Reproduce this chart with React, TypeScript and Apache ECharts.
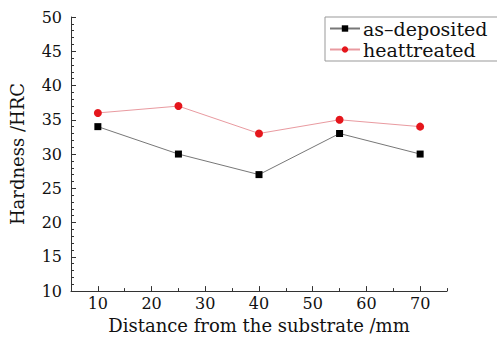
import React, { useEffect, useRef } from "react";
import * as echarts from "echarts";

const distances = [10, 25, 40, 55, 70];
const asDeposited = [34, 30, 27, 33, 30];
const heatTreated = [36, 37, 33, 35, 34];
const xMajorTicks = [10, 20, 30, 40, 50, 60, 70];
const xMinorTicks = [15, 25, 35, 45, 55, 65, 75];

const FONT = "DejaVu Serif";

export default function App() {
  const ref = useRef<HTMLDivElement>(null);
  useEffect(() => {
    if (!ref.current) return;
    const chart = echarts.init(ref.current, null, { renderer: "svg" });
    const axisLine = { show: true, lineStyle: { color: "#333", width: 1 } };
    chart.setOption({
      animation: false,
      backgroundColor: "#fff",
      textStyle: { fontFamily: FONT },
      grid: { left: 68, right: 50, top: 17, bottom: 44 },
      legend: {
        orient: "vertical",
        left: 325,
        top: 17,
        itemWidth: 30,
        itemHeight: 8,
        itemGap: 2,
        padding: [2, 60, 2, 4],
        borderColor: "#999",
        borderWidth: 1,
        textStyle: { fontFamily: FONT, fontSize: 19, color: "#111", padding: [0, 0, 0, -2] },
        data: ["as–deposited", "heattreated"],
      },
      xAxis: [
        {
          type: "value",
          min: 5,
          max: 75,
          interval: 5,
          axisLine,
          splitLine: { show: false },
          axisTick: { show: true, inside: true, length: 5, customValues: xMajorTicks, lineStyle: { color: "#333" } },
          axisLabel: { customValues: xMajorTicks, fontFamily: FONT, fontSize: 16, color: "#111", margin: 4 },
          name: "Distance from the substrate /mm",
          nameLocation: "middle",
          nameGap: 24,
          nameTextStyle: { fontFamily: FONT, fontSize: 18, color: "#111" },
        },
        {
          type: "value",
          min: 5,
          max: 75,
          interval: 5,
          position: "bottom",
          axisLine: { show: false },
          splitLine: { show: false },
          axisTick: { show: true, inside: true, length: 3, customValues: xMinorTicks, lineStyle: { color: "#333" } },
          axisLabel: { show: false },
        },
      ],
      yAxis: {
        type: "value",
        min: 10,
        max: 50,
        interval: 5,
        axisLine,
        splitLine: { show: false },
        axisTick: { show: true, inside: true, length: 5, lineStyle: { color: "#333" } },
        minorTick: { show: true, splitNumber: 5, length: 3, lineStyle: { color: "#333" } },
        axisLabel: { fontFamily: FONT, fontSize: 16, color: "#111", margin: 9 },
        name: "Hardness /HRC",
        nameLocation: "middle",
        nameGap: 45,
        nameTextStyle: { fontFamily: FONT, fontSize: 18, color: "#111" },
      },
      series: [
        {
          name: "as–deposited",
          type: "line",
          data: distances.map((d, i) => [d, asDeposited[i]]),
          symbol: "rect",
          symbolSize: 7,
          itemStyle: { color: "#000" },
          lineStyle: { color: "#777", width: 1 },
        },
        {
          name: "heattreated",
          type: "line",
          data: distances.map((d, i) => [d, heatTreated[i]]),
          symbol: "circle",
          symbolSize: 8,
          itemStyle: { color: "#e5161c" },
          lineStyle: { color: "#e99aa0", width: 1 },
        },
      ],
    });
    return () => chart.dispose();
  }, []);
  return <div ref={ref} style={{ width: 497, height: 339, position: "absolute", left: 0, top: 0 }} />;
}
